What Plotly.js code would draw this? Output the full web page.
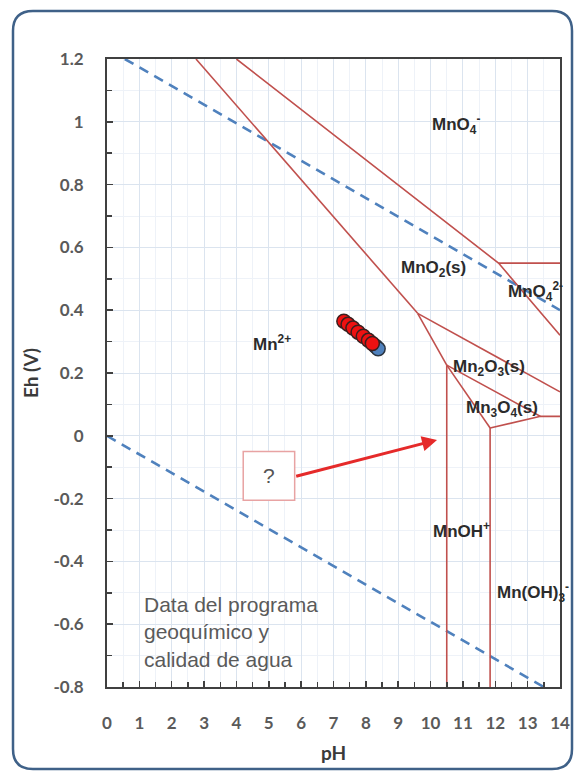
<!DOCTYPE html>
<html><head><meta charset="utf-8">
<script src="https://cdn.plot.ly/plotly-3.0.1.min.js"></script>
<style>html,body{margin:0;padding:0;background:#fff;}#chart{width:578px;height:771px;}</style>
</head><body><div id="chart"></div>
<script>
// ---- axis ticks ----
const xTickVals = [0,1,2,3,4,5,6,7,8,9,10,11,12,13,14];
const xTickText = ["0","1","2","3","4","5","6","7","8","9","10","11","12","13","14"];
const yTickVals = [-0.8,-0.6,-0.4,-0.2,0,0.2,0.4,0.6,0.8,1,1.2];
const yTickText = ["-0.8","-0.6","-0.4","-0.2","0","0.2","0.4","0.6","0.8","1","1.2"];

// ---- water stability limits (blue dashed) ----
const waterUpperPH = [0.55, 14];
const waterUpperEh = [1.2, 0.40];
const waterLowerPH = [0, 13.5];
const waterLowerEh = [0, -0.8];

// ---- Mn Pourbaix boundaries (red) ----
const mn2MnO2PH = [2.75, 9.6];          const mn2MnO2Eh = [1.2, 0.39];
const mnO2MnO4PH = [4.0, 12.1, 14];     const mnO2MnO4Eh = [1.2, 0.55, 0.32];
const mnO4MnO42PH = [12.1, 14];         const mnO4MnO42Eh = [0.55, 0.55];
const mnO2Mn2O3PH = [9.6, 14];          const mnO2Mn2O3Eh = [0.39, 0.14];
const mn2Mn2O3PH = [9.6, 10.5];         const mn2Mn2O3Eh = [0.39, 0.225];
const mn2O3Mn3O4PH = [10.5, 13.4, 14];  const mn2O3Mn3O4Eh = [0.225, 0.062, 0.062];
const mn2Mn3O4PH = [10.5, 11.84];       const mn2Mn3O4Eh = [0.225, 0.025];
const mn3O4LowPH = [11.84, 13.4];       const mn3O4LowEh = [0.025, 0.062];
const mnOHLeftPH = [10.5, 10.5];        const mnOHLeftEh = [0.225, -0.8];
const mnOHRightPH = [11.84, 11.84];     const mnOHRightEh = [0.025, -0.8];

// ---- samples ----
const samplePH = [7.32, 7.45, 7.6, 7.76, 7.92, 8.08, 8.2];
const sampleEh = [0.365, 0.355, 0.343, 0.33, 0.317, 0.304, 0.294];
const sampleBluePH = [8.3, 8.38];
const sampleBlueEh = [0.285, 0.277];

// ---- region labels ----
const labelText = ["Mn<sup>2+</sup>","MnO<sub>4</sub><sup>-</sup>","MnO<sub>2</sub>(s)","MnO<sub>4</sub><sup>2-</sup>",
  "Mn<sub>2</sub>O<sub>3</sub>(s)","Mn<sub>3</sub>O<sub>4</sub>(s)","MnOH<sup>+</sup>","Mn(OH)<sub>3</sub><sup>-</sup>"];
const labelPH = [5.1, 10.8, 10.1, 13.25, 11.8, 12.2, 10.95, 13.15];
const labelEh = [0.295, 0.99, 0.53, 0.46, 0.215, 0.085, -0.3, -0.5];

// ---- note, question box, arrow ----
const noteText = "Data del programa<br>geoquímico y<br>calidad de agua";
const notePH = 1.08, noteEh = -0.625;
const qBoxPH = [4.21, 5.8], qBoxEh = [-0.205, -0.05];
const arrowFrom = [5.8, -0.13], arrowTo = [10.2, -0.013];

const RED = '#c0504d', BLUE = '#4f81bd';
function redLine(x, y){ return {x:x, y:y, mode:'lines', type:'scatter', line:{color:RED, width:1.6}, hoverinfo:'skip'}; }

const traces = [
  {x:waterUpperPH, y:waterUpperEh, mode:'lines', line:{color:BLUE, width:2.6, dash:'10px,7px'}},
  {x:waterLowerPH, y:waterLowerEh, mode:'lines', line:{color:BLUE, width:2.6, dash:'10px,7px'}},
  redLine(mn2MnO2PH, mn2MnO2Eh), redLine(mnO2MnO4PH, mnO2MnO4Eh), redLine(mnO4MnO42PH, mnO4MnO42Eh),
  redLine(mnO2Mn2O3PH, mnO2Mn2O3Eh), redLine(mn2Mn2O3PH, mn2Mn2O3Eh), redLine(mn2O3Mn3O4PH, mn2O3Mn3O4Eh),
  redLine(mn2Mn3O4PH, mn2Mn3O4Eh), redLine(mn3O4LowPH, mn3O4LowEh), redLine(mnOHLeftPH, mnOHLeftEh),
  redLine(mnOHRightPH, mnOHRightEh),
  {x:sampleBluePH, y:sampleBlueEh, mode:'markers', marker:{size:14, color:BLUE, line:{color:'#2a3440', width:1.5}}},
  {x:samplePH, y:sampleEh, mode:'markers', marker:{size:14, color:'#ee1111', line:{color:'#3a2020', width:1.5}}}
];

// layout geometry
const W = 578, H = 771, ML = 107, MR = 18, MT = 59, MB = 84;
const PW = W - ML - MR, PH_ = H - MT - MB;
const px = v => (v - ML) / PW;
const py = v => (H - MB - v) / PH_;
const bx0 = px(13), bx1 = px(572), by0 = py(769), by1 = py(11);
const rx = 20 / PW, ry = 20 / PH_;
const boxPath = `M ${bx0+rx},${by1} L ${bx1-rx},${by1} Q ${bx1},${by1} ${bx1},${by1-ry} L ${bx1},${by0+ry} Q ${bx1},${by0} ${bx1-rx},${by0} L ${bx0+rx},${by0} Q ${bx0},${by0} ${bx0},${by0+ry} L ${bx0},${by1-ry} Q ${bx0},${by1} ${bx0+rx},${by1} Z`;

const annotations = labelText.map((t, i) => ({
  x: labelPH[i], y: labelEh[i], text: t, showarrow: false,
  font: {family: 'Liberation Sans, Arial, sans-serif', size: 17, color: '#2b2b2b', weight: 'bold'}
}));
annotations.push({x: notePH, y: noteEh, text: noteText, showarrow: false, xanchor: 'left', yanchor: 'middle', align: 'left',
  font: {family: 'Liberation Sans, Arial, sans-serif', size: 21, color: '#5a5a5a'}});
annotations.push({x: (qBoxPH[0]+qBoxPH[1])/2, y: (qBoxEh[0]+qBoxEh[1])/2, text: '?', showarrow: false,
  font: {family: 'Liberation Sans, Arial, sans-serif', size: 21, color: '#555'}});
annotations.push({x: arrowTo[0], y: arrowTo[1], ax: arrowFrom[0], ay: arrowFrom[1], axref: 'x', ayref: 'y',
  xref: 'x', yref: 'y', text: '', showarrow: true, arrowhead: 2, arrowsize: 1, arrowwidth: 3, arrowcolor: '#e52a2a', standoff: 0, startstandoff: 0});

const tickFont = {family: 'Lato, sans-serif', size: 17, color: '#5a5a5a', weight: 'bold'};
const layout = {
  width: W, height: H, margin: {l: ML, r: MR, t: MT, b: MB},
  paper_bgcolor: '#ffffff', plot_bgcolor: '#ffffff', showlegend: false, hovermode: false,
  xaxis: {range: [0, 14], tickvals: xTickVals, ticktext: xTickText, ticks: 'inside', ticklen: 6, tickwidth: 1.5, tickcolor: '#404040',
    showline: true, linecolor: '#404040', linewidth: 2, mirror: true, zeroline: false,
    showgrid: true, gridcolor: '#dbe4ef', gridwidth: 1, tickfont: tickFont, ticklabelstandoff: 20,
    minor: {dtick: 0.5, ticks: 'inside', ticklen: 5, tickcolor: '#404040', showgrid: true, gridcolor: '#eef2f8'},
    title: {text: 'pH', font: {family: 'Lato, sans-serif', size: 19, color: '#3a3a3a', weight: 'bold'}, standoff: 14}},
  yaxis: {range: [-0.8, 1.2], tickvals: yTickVals, ticktext: yTickText, ticks: 'inside', ticklen: 6, tickwidth: 1.5, tickcolor: '#404040',
    showline: true, linecolor: '#404040', linewidth: 2, mirror: true, zeroline: false,
    showgrid: true, gridcolor: '#dbe4ef', gridwidth: 1, tickfont: tickFont, ticklabelstandoff: 18,
    minor: {dtick: 0.1, ticks: 'inside', ticklen: 5, tickcolor: '#404040', showgrid: true, gridcolor: '#eef2f8'},
    title: {text: 'Eh (V)', font: {family: 'Lato, sans-serif', size: 19, color: '#3a3a3a', weight: 'bold'}, standoff: 10}},
  annotations: annotations,
  shapes: [
    {type: 'rect', xref: 'x', yref: 'y', x0: qBoxPH[0], x1: qBoxPH[1], y0: qBoxEh[0], y1: qBoxEh[1],
      line: {color: '#e8a3a3', width: 1.5}, fillcolor: '#ffffff', layer: 'above'},
    {type: 'path', xref: 'paper', yref: 'paper', path: boxPath, line: {color: '#3f6188', width: 2.5}, layer: 'above'}
  ]
};
Plotly.newPlot('chart', traces.map(t => Object.assign({type: 'scatter', hoverinfo: 'skip'}, t)), layout, {staticPlot: true, displayModeBar: false});
</script></body></html>
